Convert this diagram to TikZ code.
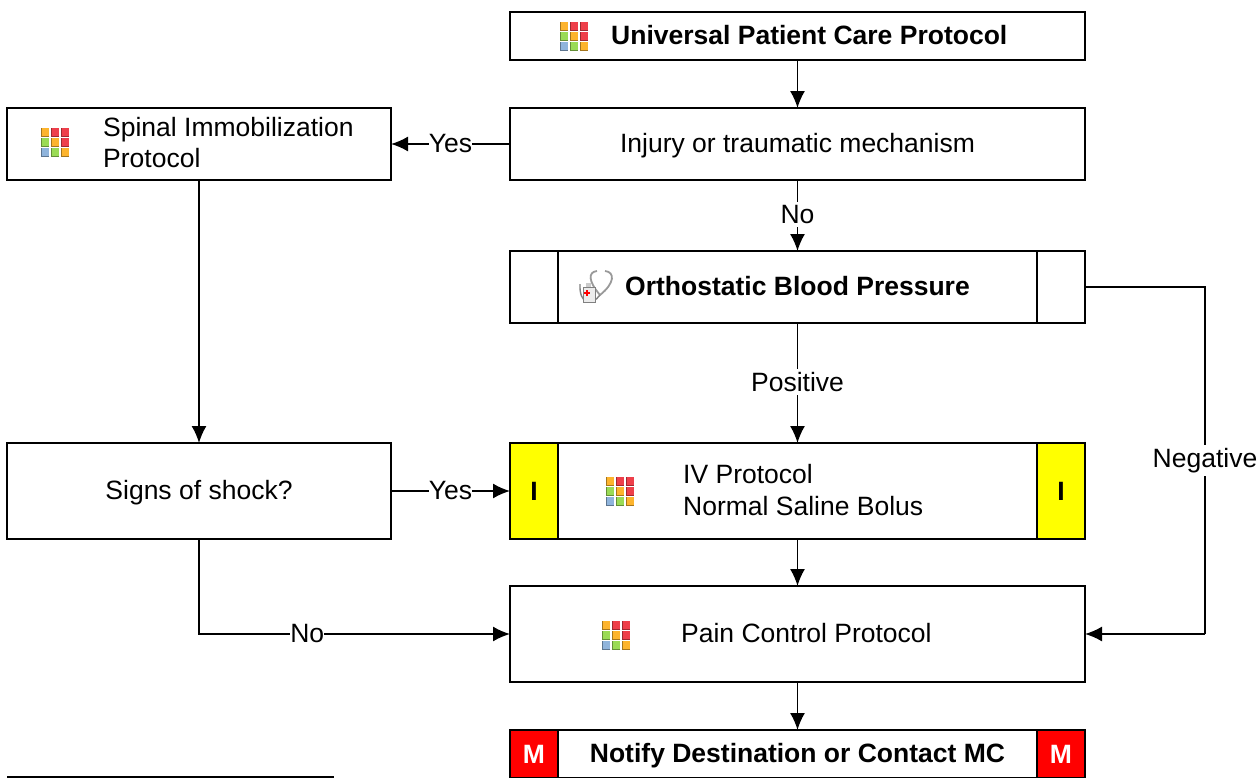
\documentclass[tikz,border=0pt]{standalone}
\usepackage{fontspec}
\setmainfont{Liberation Sans}
\usetikzlibrary{arrows.meta}

\definecolor{tileorange}{HTML}{FDB42D}
\definecolor{tilered}{HTML}{EE3F4A}
\definecolor{tilegreen}{HTML}{9ADB55}
\definecolor{tileblue}{HTML}{8FB4DC}
\definecolor{cellyellow}{HTML}{FFFF00}
\definecolor{cellred}{HTML}{FF0000}

\tikzset{
  box/.style={draw,line width=2pt,fill=white,minimum width=575pt,inner sep=0pt,outer sep=0pt,text height=23pt,text depth=7pt,font=\fontsize{26.5}{31}\selectfont},
  sidebox/.style={box,minimum width=384pt},
  cell/.style={draw,line width=2pt,minimum width=48pt,inner sep=0pt,outer sep=0pt,font=\fontsize{26.5}{31}\selectfont\bfseries},
  tag/.style={fill=white,inner xsep=0pt,inner ysep=3pt,font=\fontsize{26.5}{31}\selectfont},
  lefttext/.style={anchor=west,inner sep=0pt,align=left,font=\fontsize{26.5}{31.5}\selectfont},
  flow/.style={line width=1.6pt,-{Latex[length=17pt,width=15pt]}},
  line/.style={line width=1.6pt},
  tile/.pic={
    \foreach \col/\row/\c in {0/0/tileorange,1/0/tilered,2/0/tilered,
                              0/1/tilegreen,1/1/tileorange,2/1/tilered,
                              0/2/tileblue,1/2/tilegreen,2/2/tileorange}{
      \fill[\c] (\col*10-14,\row*10-14) rectangle ++(8,8);
      \draw[\c!65!black,line width=1pt] (\col*10-14,\row*10-14) -- ++(0,8) -- ++(8,0);
    }
  },
  scope icon/.pic={
    \draw[gray!80,line width=1.8pt] (5,8) .. controls (-7,-6) and (-7,-15) .. (2,-16);
    \draw[gray!80,line width=1.8pt] (5,8) .. controls (20,-4) and (20,-15) .. (10,-16);
    \draw[gray,line width=1.4pt] (5,8) .. controls (-3,19) and (-16,18) .. (-15,-3);
    \fill[gray!15,draw=gray,line width=.8pt] (-12,0) rectangle (0,15);
    \fill[gray!40] (-9,-4) rectangle (-4,0);
    \fill[red] (-11,5) rectangle (-5,7);
    \fill[red] (-9,3) rectangle (-7,9);
  }
}

\begin{document}
\begin{tikzpicture}[x=1pt,y=-1pt]

\useasboundingbox (0,0) rectangle (1259,777);
\clip (0,0) rectangle (1259,777);

\node[box,minimum height=48pt] (universal) at (797.5,36) {};
\node[lefttext,font=\fontsize{26.5}{31}\selectfont\bfseries] (universaltext) at (611,35) {Universal Patient Care Protocol};
\node[box,minimum height=72pt] (injury) at (797.5,144) {Injury or traumatic mechanism};
\node[sidebox,minimum height=72pt] (spinal) at (199,144) {};
\node[lefttext,font=\fontsize{26.5}{31}\selectfont] (spinaltext) at (103,143) {Spinal Immobilization\\Protocol};

\node[box,minimum height=72pt,font=\fontsize{26.5}{31}\selectfont\bfseries] (ortho) at (797.5,287) {Orthostatic Blood Pressure};
\node[cell,minimum height=72pt] (ortholeft) at (534,287) {};
\node[cell,minimum height=72pt] (orthoright) at (1061,287) {};

\node[box,minimum height=96pt] (iv) at (797.5,491) {};
\node[cell,fill=cellyellow,minimum height=96pt] (ivleft) at (534,491) {I};
\node[cell,fill=cellyellow,minimum height=96pt] (ivright) at (1061,491) {I};
\node[lefttext] (ivtext) at (683,490) {IV Protocol\\Normal Saline Bolus};
\node[sidebox,minimum height=96pt] (signs) at (199,491) {Signs of shock?};

\node[box,minimum height=96pt] (pain) at (797.5,634) {};
\node[lefttext] (paintext) at (681,633) {Pain Control Protocol};

\node[box,minimum height=48pt,font=\fontsize{26.5}{31}\selectfont\bfseries] (notify) at (797.5,754) {Notify Destination or Contact MC};
\node[cell,fill=cellred,text=white,minimum height=48pt] (notifyleft) at (534,754) {M};
\node[cell,fill=cellred,text=white,minimum height=48pt] (notifyright) at (1061,754) {M};

\node[draw,line width=2pt,anchor=north west,minimum width=325pt,minimum height=30pt,inner sep=0pt] (legend) at (7,775.5) {};

\coordinate (corner) at (1205,634);

\draw[flow] (universal) -- (injury);
\draw[flow] (injury) -- node[tag,yshift=1pt]{No} (ortho);
\draw[flow] (ortho) -- node[tag,yshift=1pt]{Positive} (iv);
\draw[flow] (iv) -- (pain);
\draw[flow] (pain) -- (notify);
\draw[flow] (injury) -- node[tag,pos=.5]{Yes} (spinal);
\draw[flow] (spinal) -- (signs);
\draw[flow] (signs) -- node[tag,pos=.5]{Yes} (ivleft);
\draw[flow] (signs.south) |- node[tag,pos=.674]{No} (pain.west);
\draw[line] (orthoright.east) -| (corner) node[tag,pos=.75]{Negative};
\draw[flow] (corner) -- (pain.east);

\pic at (574,36) {tile};
\pic at (55,142) {tile};
\pic at (620,491) {tile};
\pic at (616,635) {tile};
\pic at (595,287) {scope icon};

\end{tikzpicture}
\end{document}
